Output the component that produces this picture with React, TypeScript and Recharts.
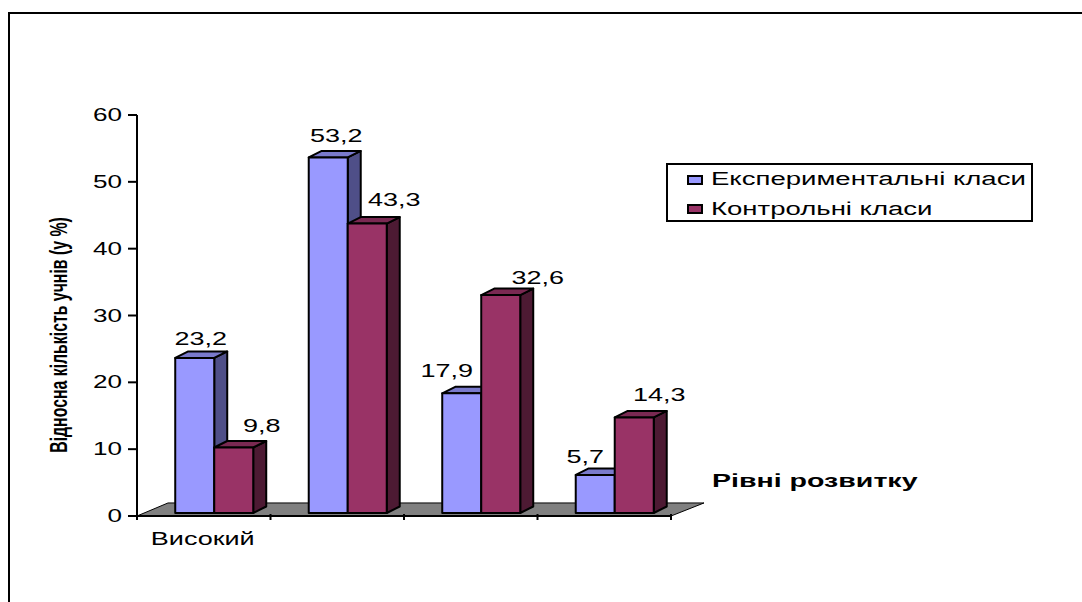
import React from 'react';
import { BarChart, Bar, XAxis, YAxis, Legend, LabelList, Label, ReferenceArea } from 'recharts';

const levels = ['Високий', '', '', ''];
const experimental = [23.2, 53.2, 17.9, 5.7];
const control = [9.8, 43.3, 32.6, 14.3];
const yTicks = [0, 10, 20, 30, 40, 50, 60];
const seriesNames = ['Експериментальні класи', 'Контрольні класи'];

const chartData = levels.map((level, i) => ({
  level,
  experimental: experimental[i],
  control: control[i],
}));

const FONT = '"Liberation Sans", Arial, sans-serif';
const BLUE = { front: '#9999FF', top: '#7A7ACC', side: '#4F4F88' };
const RED = { front: '#993366', top: '#7A2952', side: '#4D1A33' };

// label nudges, the original labels were placed by hand
const blueLabelShift = [[6, -19], [8, -22], [-15, -23], [-10, -18]];
const redLabelShift = [[28, -22], [27, -24], [37, -17], [25, -23]];

// Arial in the picture is stretched sideways, so widen it through a transform
const WideText = ({ x, y, children, anchor = 'middle', size = 18, scale = 1.45, bold = false }: any) => (
  <text
    transform={`translate(${x},${y}) scale(${scale},1)`}
    textAnchor={anchor}
    dominantBaseline="central"
    fontFamily={FONT}
    fontSize={size}
    fontWeight={bold ? 700 : 400}
    fill="#000"
  >
    {children}
  </text>
);

const BAR_DX = 10;
const BAR_DY = -3;

const Bar3D = (colors: typeof BLUE) => (props: any) => {
  const dp = 13;
  const dh = 6.5;
  const x = props.x + BAR_DX;
  const y = props.y + BAR_DY;
  const w = props.width;
  const h = props.height;
  return (
    <g stroke="#000" strokeWidth={2} strokeLinejoin="round">
      <polygon fill={colors.side} points={`${x + w},${y} ${x + w + dp},${y - dh} ${x + w + dp},${y + h - dh} ${x + w},${y + h}`} />
      <polygon fill={colors.top} points={`${x},${y} ${x + dp},${y - dh} ${x + w + dp},${y - dh} ${x + w},${y}`} />
      <rect x={x} y={y} width={w} height={h} fill={colors.front} />
    </g>
  );
};

const Floor = ({ x, y, width, height }: any) => (
  <polygon
    points={`${x},${y + height} ${x + 31},${y} ${x + width + 33},${y} ${x + width},${y + height}`}
    fill="#808080"
    stroke="#000"
    strokeWidth={1}
  />
);

const barLabel = (shift: number[][]) => ({ x, y, width, value, index }: any) => (
  <WideText x={x + width / 2 + BAR_DX + shift[index][0]} y={y + BAR_DY + shift[index][1]} scale={1.5}>
    {String(value).replace('.', ',')}
  </WideText>
);

const YTick = ({ x, y, payload }: any) => (
  <WideText x={x} y={y} anchor="end">
    {payload.value}
  </WideText>
);

// tick marks sit between the categories, not under them
const XTick = ({ x, y, payload, index }: any) => {
  const band = 133.5;
  const top = y - 8;
  return (
    <g>
      <line x1={x + band / 2} x2={x + band / 2} y1={top} y2={top + 6} stroke="#000" strokeWidth={2} />
      {index === 0 && <line x1={x - band / 2} x2={x - band / 2} y1={top} y2={top + 6} stroke="#000" strokeWidth={2} />}
      <WideText x={x - 1} y={y + 17} scale={1.5}>
        {payload.value}
      </WideText>
    </g>
  );
};

const LegendBox = () => (
  <div
    style={{
      boxSizing: 'border-box',
      width: 367,
      height: 59,
      border: '2px solid #000',
      background: '#fff',
      padding: '0 0 0 19px',
      fontFamily: FONT,
      fontSize: 18,
      color: '#000',
    }}
  >
    {seriesNames.map((name, i) => (
      <div key={name} style={{ display: 'flex', alignItems: 'center', height: 29.5, whiteSpace: 'nowrap' }}>
        <span
          style={{
            boxSizing: 'border-box',
            width: 16,
            height: 10,
            marginRight: 8,
            border: '2px solid #000',
            background: i === 0 ? BLUE.front : RED.front,
          }}
        />
        <span style={{ display: 'inline-block', transform: 'scaleX(1.53)', transformOrigin: 'left center' }}>{name}</span>
      </div>
    ))}
  </div>
);

const App = () => (
  <div style={{ position: 'absolute', left: 0, top: 0, width: 1082, height: 602, background: '#fff', overflow: 'hidden' }}>
    <div style={{ position: 'absolute', left: 8, top: 12, width: 1074, height: 590, borderLeft: '2px solid #000', borderTop: '2px solid #000' }} />
    <BarChart
      width={1082}
      height={602}
      data={chartData}
      barCategoryGap="21.15%"
      barGap={0}
      margin={{ top: 115, right: 411, bottom: 56, left: 0 }}
      style={{ position: 'absolute', left: 0, top: 0 }}
    >
      <ReferenceArea y1={0} y2={1.95} shape={<Floor />} ifOverflow="visible" />
      <XAxis
        dataKey="level"
        height={30}
        interval={0}
        stroke="#000"
        strokeWidth={2}
        tickLine={false}
        tick={<XTick />}
        tickMargin={0}
      >
        <Label
          content={() => (
            <WideText x={712} y={481} anchor="start" scale={1.586} bold>
              Рівні розвитку
            </WideText>
          )}
        />
      </XAxis>
      <YAxis
        width={137}
        domain={[0, 60]}
        ticks={yTicks}
        stroke="#000"
        strokeWidth={2}
        tickSize={9}
        tickMargin={6}
        tick={<YTick />}
      >
        <Label
          content={() => (
            <text
              transform="translate(59,335) rotate(-90) scale(0.66,1)"
              textAnchor="middle"
              dominantBaseline="central"
              fontFamily={FONT}
              fontSize={24}
              fontWeight={700}
            >
              Відносна кількість учнів (у %)
            </text>
          )}
        />
      </YAxis>
      <Legend
        layout="horizontal"
        verticalAlign="middle"
        content={<LegendBox />}
        wrapperStyle={{ left: 666, top: 163, width: 367, height: 59 }}
      />
      <Bar dataKey="experimental" name={seriesNames[0]} shape={Bar3D(BLUE)} isAnimationActive={false}>
        <LabelList dataKey="experimental" content={barLabel(blueLabelShift)} />
      </Bar>
      <Bar dataKey="control" name={seriesNames[1]} shape={Bar3D(RED)} isAnimationActive={false}>
        <LabelList dataKey="control" content={barLabel(redLabelShift)} />
      </Bar>
    </BarChart>
  </div>
);

export default App;
